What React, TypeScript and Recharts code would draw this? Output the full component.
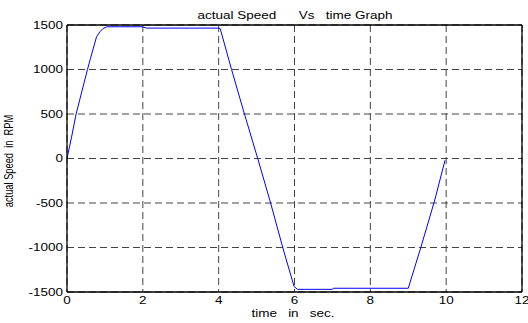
import React from "react";
import { LineChart, Line, XAxis, YAxis, CartesianGrid, ReferenceLine, Customized } from "recharts";

const timeSec = [0, 0.12, 0.24, 0.54, 0.62, 0.78, 0.87, 0.95, 1.05, 1.99, 2.1, 4.0, 4.04, 4.34, 4.68, 5.03, 5.37, 5.69, 5.99, 6.08, 7.0, 7.02, 9.0, 9.33, 9.7, 9.97];
const speedRpm = [0, 240, 500, 1000, 1126, 1368, 1425, 1460, 1480, 1480, 1465, 1465, 1460, 1000, 500, 0, -500, -1000, -1440, -1470, -1470, -1458, -1458, -1002, -466, -20];
const xTicks = [0, 2, 4, 6, 8, 10, 12];
const yTicks = [-1500, -1000, -500, 0, 500, 1000, 1500];
const titleText = "actual Speed      Vs   time Graph";
const xLabelText = "time   in   sec.";
const yLabelText = "actual Speed  in  RPM";

const data = timeSec.map((t, i) => ({ t, v: speedRpm[i] }));

const FONT = "'Liberation Sans', Arial, sans-serif";
const SX = 1.35;

function StretchText({ x, y, anchor, dy, size = 10, children }: any) {
  return (
    <text
      transform={`translate(${x},${y}) scale(${SX},1)`}
      x={0}
      y={0}
      dy={dy}
      textAnchor={anchor}
      fontSize={size}
      fontFamily={FONT}
      fill="#000"
      xmlSpace="preserve"
      style={{ whiteSpace: "pre" }}
    >
      {children}
    </text>
  );
}

const YTick = (props: any) => (
  <StretchText x={props.x} y={props.y} anchor="end" dy="0.355em">
    {String(props.payload.value)}
  </StretchText>
);

const XTick = (props: any) => (
  <StretchText x={props.x} y={props.y} anchor="middle" dy="0.71em">
    {String(props.payload.value)}
  </StretchText>
);

const Texts = () => (
  <g>
    <StretchText x={295} y={18.5} anchor="middle">{titleText}</StretchText>
    <StretchText x={293} y={317} anchor="middle">{xLabelText}</StretchText>
    <text
      transform={`translate(13,161) scale(${SX},1) rotate(-90)`}
      x={0}
      y={0}
      textAnchor="middle"
      fontSize={9.3}
      fontFamily={FONT}
      fill="#000"
      xmlSpace="preserve"
      style={{ whiteSpace: "pre" }}
    >
      {yLabelText}
    </text>
  </g>
);

export default function App() {
  return (
    <div style={{ position: "absolute", left: 0, top: 0, width: 528, height: 323, background: "#fff" }}>
      <LineChart width={528} height={323} data={data} margin={{ top: 25, right: 6, bottom: 0, left: 0 }}>
        <CartesianGrid stroke="#444" strokeDasharray="7 4" strokeWidth={1} />
        <XAxis
          dataKey="t"
          type="number"
          domain={[0, 12]}
          ticks={xTicks}
          height={31}
          axisLine={{ stroke: "#000", strokeWidth: 1.3 }}
          tickLine={false}
          tickSize={0}
          tickMargin={5}
          tick={<XTick />}
          interval={0}
        />
        <YAxis
          type="number"
          domain={[-1500, 1500]}
          ticks={yTicks}
          width={67}
          axisLine={{ stroke: "#000", strokeWidth: 1.3 }}
          tickLine={false}
          tickSize={0}
          tickMargin={4}
          tick={<YTick />}
          interval={0}
        />
        <ReferenceLine y={1500} stroke="#000" strokeWidth={1.3} />
        <ReferenceLine x={12} stroke="#000" strokeWidth={1.3} />
        <Line type="linear" dataKey="v" stroke="#0000ff" strokeWidth={1} dot={false} isAnimationActive={false} />
        <Customized component={Texts} />
      </LineChart>
    </div>
  );
}
